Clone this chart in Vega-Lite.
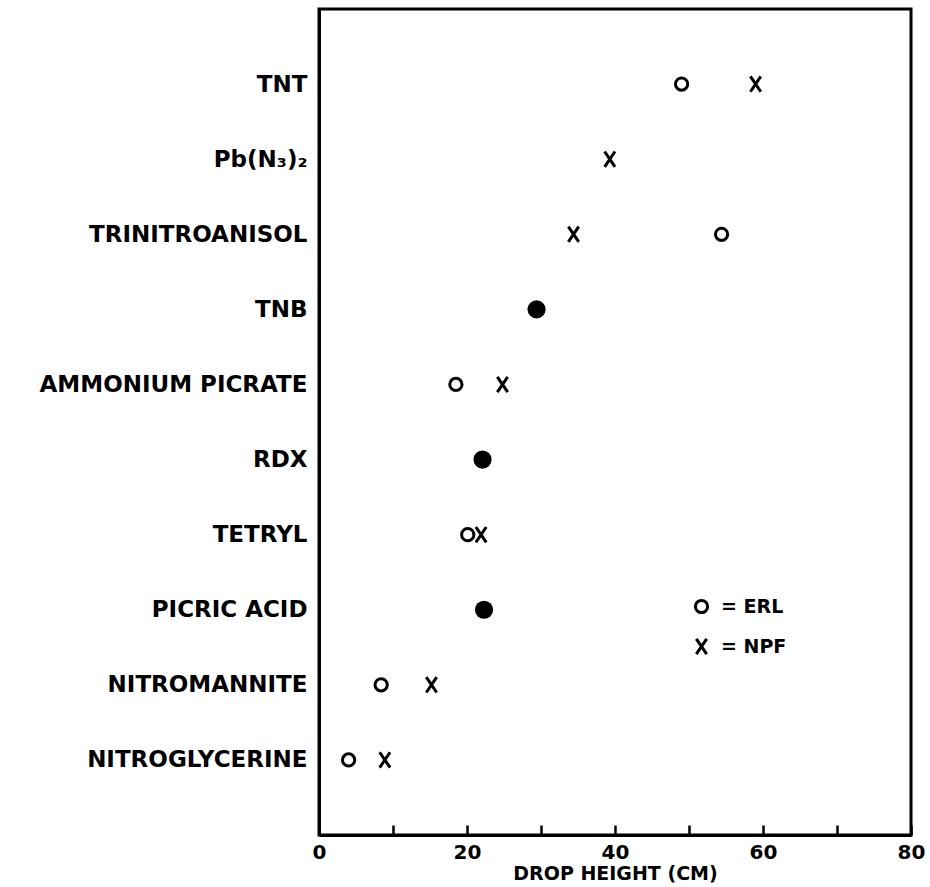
{
  "$schema": "https://vega.github.io/schema/vega-lite/v6.json",
  "autosize": {"type": "none"},
  "padding": {"left": 319, "top": 9, "right": 16, "bottom": 52},
  "width": 592,
  "height": 826,
  "background": "white",
  "config": {
    "view": {"stroke": "black", "strokeWidth": 3},
    "font": "DejaVu Sans"
  },
  "data": {
    "values": [
      {"explosive": "TNT", "lab": "ERL", "height": 49},
      {"explosive": "TNT", "lab": "NPF", "height": 59},
      {"explosive": "Pb(N₃)₂", "lab": "NPF", "height": 39.3},
      {"explosive": "TRINITROANISOL", "lab": "NPF", "height": 34.4},
      {"explosive": "TRINITROANISOL", "lab": "ERL", "height": 54.4},
      {"explosive": "TNB", "lab": "Both", "height": 29.4},
      {"explosive": "AMMONIUM PICRATE", "lab": "ERL", "height": 18.5},
      {"explosive": "AMMONIUM PICRATE", "lab": "NPF", "height": 24.8},
      {"explosive": "RDX", "lab": "Both", "height": 22.1},
      {"explosive": "TETRYL", "lab": "ERL", "height": 20.1},
      {"explosive": "TETRYL", "lab": "NPF", "height": 21.9},
      {"explosive": "PICRIC ACID", "lab": "Both", "height": 22.3},
      {"explosive": "NITROMANNITE", "lab": "ERL", "height": 8.4},
      {"explosive": "NITROMANNITE", "lab": "NPF", "height": 15.2},
      {"explosive": "NITROGLYCERINE", "lab": "ERL", "height": 4.0},
      {"explosive": "NITROGLYCERINE", "lab": "NPF", "height": 8.9}
    ]
  },
  "encoding": {
    "x": {
      "field": "height", "type": "quantitative",
      "scale": {"domain": [0, 80], "nice": false, "zero": false},
      "axis": {
        "title": "DROP HEIGHT (CM)",
        "values": [0, 10, 20, 30, 40, 50, 60, 70, 80],
        "labelExpr": "datum.value % 20 == 0 ? datum.label : ''",
        "labelFlush": false,
        "grid": false,
        "domainColor": "black", "domainWidth": 3,
        "tickColor": "black", "tickWidth": 2.5, "tickSize": -10,
        "labelFont": "DejaVu Sans", "labelFontWeight": "bold", "labelFontSize": 20, "labelColor": "black",
        "labelPadding": 17,
        "titleFont": "DejaVu Sans", "titleFontWeight": "bold", "titleFontSize": 19, "titleColor": "black",
        "titlePadding": 2
      }
    },
    "y": {
      "field": "explosive", "type": "nominal",
      "sort": ["TNT", "Pb(N₃)₂", "TRINITROANISOL", "TNB", "AMMONIUM PICRATE", "RDX", "TETRYL", "PICRIC ACID", "NITROMANNITE", "NITROGLYCERINE"],
      "scale": {"type": "point", "padding": 1},
      "axis": {
        "title": null, "ticks": false, "grid": false,
        "domainColor": "black", "domainWidth": 3,
        "labelFont": "DejaVu Sans", "labelFontWeight": "bold", "labelFontSize": 23, "labelColor": "black",
        "labelPadding": 12, "labelLimit": 400
      }
    }
  },
  "layer": [
    {
      "transform": [{"filter": "datum.lab != 'Both'"}],
      "mark": {"type": "point", "filled": false, "stroke": "black", "strokeWidth": 3, "opacity": 1, "size": 150},
      "encoding": {
        "shape": {
          "field": "lab", "type": "nominal",
          "scale": {"domain": ["ERL", "NPF"], "range": ["circle", "M-0.85,-1.25L0.85,1.25M0.85,-1.25L-0.85,1.25"]},
          "legend": {
            "title": null, "orient": "none", "legendX": 373, "legendY": 588,
            "labelExpr": "'=  ' + datum.label",
            "labelFont": "DejaVu Sans", "labelFontWeight": "bold", "labelFontSize": 19, "labelColor": "black",
            "symbolStrokeColor": "black", "symbolStrokeWidth": 3, "symbolSize": 150, "symbolFillColor": "transparent",
            "rowPadding": 13, "labelOffset": 10
          }
        }
      }
    },
    {
      "transform": [{"filter": "datum.lab == 'Both'"}],
      "mark": {"type": "circle", "color": "black", "opacity": 1, "size": 330}
    }
  ]
}
